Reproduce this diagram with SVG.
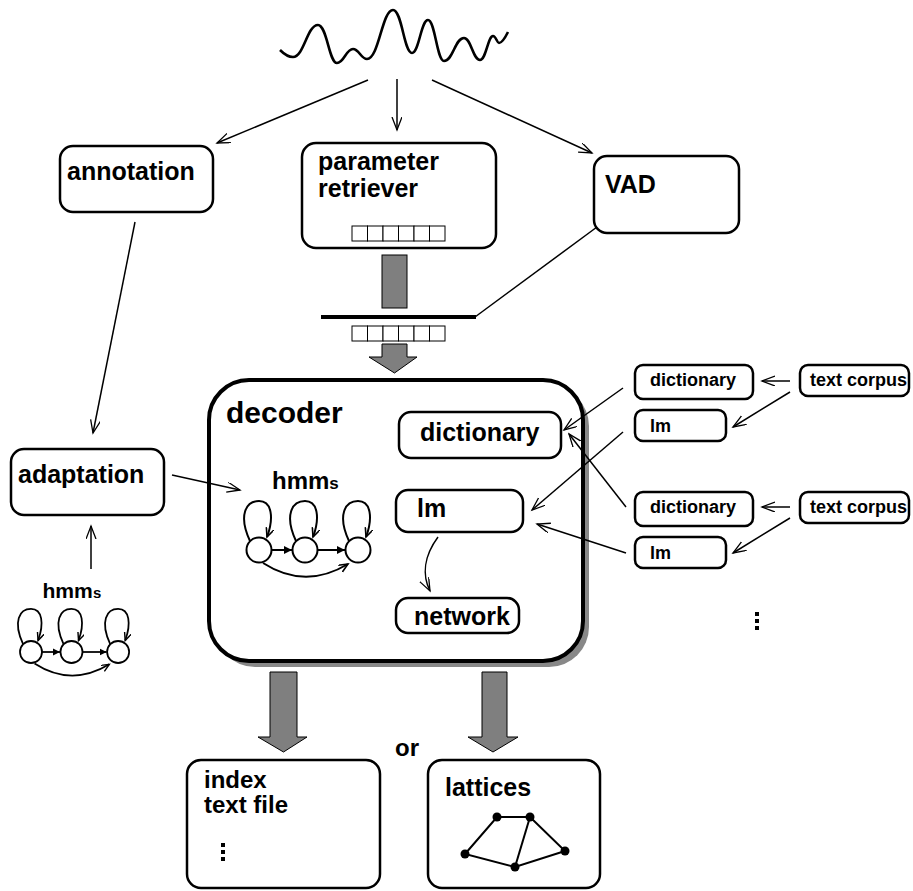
<svg xmlns="http://www.w3.org/2000/svg" width="913" height="891" viewBox="0 0 913 891">
  <style>
    text { font-family: "Liberation Sans", Arial, sans-serif; font-weight: bold; fill: #000; }
    .lbl { font-size: 25px; }
    .sm { font-size: 18px; }
    .box { fill: #fff; stroke: #000; stroke-width: 2.5; }
    .edge { fill: none; stroke: #000; stroke-width: 1.5; }
    .bar { fill: #7f7f7f; stroke: #000; stroke-width: 1; }
    .cell { fill: #fff; stroke: #000; stroke-width: 1; }
    .st { fill: #fff; stroke: #000; stroke-width: 2; }
  </style>
  <defs>
    <marker id="open" markerUnits="userSpaceOnUse" markerWidth="16" markerHeight="12" refX="13" refY="5" orient="auto">
      <path d="M0,0 L13,5 L0,10" fill="none" stroke="#000" stroke-width="1.3"/>
    </marker>
    <marker id="tri" markerUnits="userSpaceOnUse" markerWidth="10" markerHeight="10" refX="8" refY="4" orient="auto">
      <path d="M0,0 L8,4 L0,8 Z" fill="#000"/>
    </marker>
    <marker id="loopHead" markerUnits="userSpaceOnUse" markerWidth="12" markerHeight="12" refX="9" refY="4" orient="auto">
      <path d="M0,0 L9,4 L0,8" fill="none" stroke="#000" stroke-width="1.6"/>
    </marker>
    <!-- three-state HMM, origin at the first state's centre -->
    <g id="hmm">
      <text x="13" y="-61" style="font-size:24px">hmm<tspan style="font-size:17px">s</tspan></text>
      <path class="edge" style="stroke-width:2" d="M-9,-9 C-21,-35 -13,-49 0,-49 C13,-49 15,-32 8,-13" marker-end="url(#loopHead)"/>
      <path class="edge" style="stroke-width:2" d="M37,-9 C25,-35 33,-49 46,-49 C59,-49 61,-32 54,-13" marker-end="url(#loopHead)"/>
      <path class="edge" style="stroke-width:2" d="M90,-9 C78,-35 86,-49 99,-49 C112,-49 114,-32 107,-13" marker-end="url(#loopHead)"/>
      <path class="edge" style="stroke-width:2" d="M12.5,0 L33,0" marker-end="url(#tri)"/>
      <path class="edge" style="stroke-width:2" d="M58.5,0 L86,0" marker-end="url(#tri)"/>
      <path class="edge" style="stroke-width:2" d="M4,13 Q46,40 89,14" marker-end="url(#loopHead)"/>
      <circle class="st" cx="0" cy="0" r="12.5"/>
      <circle class="st" cx="46" cy="0" r="12.5"/>
      <circle class="st" cx="99" cy="0" r="12.5"/>
    </g>
  </defs>

  <!-- speech signal -->
  <path id="signal" fill="none" stroke="#000" stroke-width="2.6" d="M280,50 C284,54 289,57 293,57 C304,57 307,25 318,25 C327,25 329,63 337,63 C344,63 346,49 353,49 C359,49 361,59 367,59 C379,59 382,10 393,10 C402,10 404,53 412,53 C419,53 421,20 428,20 C435,20 437,61 444,61 C453,61 455,38 464,38 C471,38 473,60 480,60 C486,60 488,36 493,36 C496,36 497,43 499,43 C502,43 505,38 508,32"/>

  <!-- decoder frame sits under the connectors that reach into it -->
  <g id="decoder">
    <rect x="215" y="386" width="374" height="281" rx="40" fill="#888"/>
    <rect x="209" y="380" width="374" height="281" rx="40" fill="#fff" stroke="#000" stroke-width="4"/>
    <text x="226" y="423" style="font-size:30px">decoder</text>
  </g>

  <!-- connectors -->
  <g id="connectors">
    <path class="edge" d="M368,80 L217,143" marker-end="url(#open)"/>
    <path class="edge" d="M397,79 L397,130" marker-end="url(#open)"/>
    <path class="edge" d="M432,80 L592,153" marker-end="url(#open)"/>
    <path class="edge" d="M135,222 L93,433" marker-end="url(#open)"/>
    <path class="edge" d="M172,475 L240,490" marker-end="url(#open)"/>
    <path class="edge" d="M91,569 L91,526" marker-end="url(#open)"/>
    <path class="edge" d="M475,317 L597,227"/>
    <line x1="321" y1="317" x2="476" y2="317" stroke="#000" stroke-width="4"/>
    <path class="edge" d="M438,537 C424,556 422,575 430,591" marker-end="url(#open)"/>
    <path class="edge" d="M790,381 L762,381" marker-end="url(#open)"/>
    <path class="edge" d="M790,392 L733,427" marker-end="url(#open)"/>
    <path class="edge" d="M790,507 L762,507" marker-end="url(#open)"/>
    <path class="edge" d="M790,518 L733,553" marker-end="url(#open)"/>
    <path class="edge" d="M623,388 L564,430" marker-end="url(#open)"/>
    <path class="edge" d="M623,432 L532,510" marker-end="url(#open)"/>
    <path class="edge" d="M626,507 L569,434" marker-end="url(#open)"/>
    <path class="edge" d="M626,553 L537,524" marker-end="url(#open)"/>
  </g>

  <!-- block arrows -->
  <rect class="bar" x="382" y="255" width="25" height="53"/>
  <path class="bar" d="M382,344 L407,344 L407,357 L417,357 L394.5,373 L369,357 L382,357 Z"/>
  <path class="bar" d="M270,672 L297,672 L297,737 L307,737 L283.5,752 L258,737 L270,737 Z"/>
  <path class="bar" d="M482,672 L507,672 L507,737 L518,737 L493,752 L468,737 L482,737 Z"/>

  <g id="annotation">
    <rect class="box" x="60" y="146" width="153" height="66" rx="13"/>
    <text class="lbl" x="67" y="180">annotation</text>
  </g>

  <g id="parameter-retriever">
    <rect class="box" x="302" y="143" width="194" height="105" rx="14"/>
    <text class="lbl" x="318" y="170">parameter</text>
    <text class="lbl" x="318" y="197">retriever</text>
    <g>
      <rect class="cell" x="352" y="226" width="15.5" height="15"/>
      <rect class="cell" x="367.5" y="226" width="15.5" height="15"/>
      <rect class="cell" x="383" y="226" width="15.5" height="15"/>
      <rect class="cell" x="398.5" y="226" width="15.5" height="15"/>
      <rect class="cell" x="414" y="226" width="15.5" height="15"/>
      <rect class="cell" x="429.5" y="226" width="15.5" height="15"/>
    </g>
  </g>

  <g id="vad">
    <rect class="box" x="594" y="156" width="145" height="77" rx="13"/>
    <text class="lbl" x="605" y="193">VAD</text>
  </g>

  <g id="feature-buffer">
    <rect class="cell" x="352" y="326" width="15.5" height="15"/>
    <rect class="cell" x="367.5" y="326" width="15.5" height="15"/>
    <rect class="cell" x="383" y="326" width="15.5" height="15"/>
    <rect class="cell" x="398.5" y="326" width="15.5" height="15"/>
    <rect class="cell" x="414" y="326" width="15.5" height="15"/>
    <rect class="cell" x="429.5" y="326" width="15.5" height="15"/>
  </g>

  <g id="adaptation">
    <rect class="box" x="11" y="449" width="153" height="66" rx="13"/>
    <text class="lbl" x="18" y="483">adaptation</text>
  </g>

  <g id="hmms-models">
    <use href="#hmm" transform="translate(31,652) scale(0.88)"/>
  </g>

  <g id="decoder-hmms">
    <use href="#hmm" transform="translate(259,550)"/>
  </g>

  <g id="decoder-dictionary">
    <rect class="box" x="399" y="412" width="162" height="46" rx="12"/>
    <text class="lbl" x="420" y="441">dictionary</text>
  </g>

  <g id="decoder-lm">
    <rect class="box" x="396" y="490" width="127" height="42" rx="12"/>
    <text class="lbl" x="417" y="517">lm</text>
  </g>

  <g id="decoder-network">
    <rect class="box" x="396" y="598" width="123" height="35" rx="12"/>
    <text class="lbl" x="414" y="625">network</text>
  </g>

  <g id="dictionary-1">
    <rect class="box" x="635" y="365" width="118" height="34" rx="8"/>
    <text class="sm" x="650" y="386">dictionary</text>
  </g>
  <g id="corpus-1">
    <rect class="box" x="800" y="365" width="109" height="31" rx="8"/>
    <text class="sm" x="810" y="386">text corpus</text>
  </g>
  <g id="lm-1">
    <rect class="box" x="635" y="410" width="91" height="31" rx="8"/>
    <text class="sm" x="650" y="432">lm</text>
  </g>
  <g id="dictionary-2">
    <rect class="box" x="635" y="492" width="118" height="34" rx="8"/>
    <text class="sm" x="650" y="513">dictionary</text>
  </g>
  <g id="corpus-2">
    <rect class="box" x="800" y="492" width="109" height="31" rx="8"/>
    <text class="sm" x="810" y="513">text corpus</text>
  </g>
  <g id="lm-2">
    <rect class="box" x="635" y="537" width="91" height="31" rx="8"/>
    <text class="sm" x="650" y="559">lm</text>
  </g>

  <!-- vertical ellipsis under the model sets -->
  <g id="more-models" fill="#000">
    <rect x="755" y="612" width="4" height="4"/>
    <rect x="755" y="619" width="4" height="4"/>
    <rect x="755" y="626" width="4" height="4"/>
  </g>

  <text class="lbl" x="395" y="756" style="font-size:24px">or</text>

  <g id="index-file">
    <rect class="box" x="187" y="760" width="193" height="128" rx="14"/>
    <text class="lbl" x="204" y="788" style="font-size:24px">index</text>
    <text class="lbl" x="204" y="813" style="font-size:24px">text file</text>
    <rect x="221" y="843" width="4" height="4"/>
    <rect x="221" y="850" width="4" height="4"/>
    <rect x="221" y="857" width="4" height="4"/>
  </g>

  <g id="lattices">
    <rect class="box" x="428" y="760" width="172" height="128" rx="14"/>
    <text class="lbl" x="445" y="796">lattices</text>
    <g stroke="#000" stroke-width="2" fill="none">
      <path d="M497,817 L530,817 L565,851 L515,867 L465,854 Z"/>
      <path d="M530,817 L515,867"/>
    </g>
    <g fill="#000">
      <circle cx="497" cy="817" r="4.5"/>
      <circle cx="530" cy="817" r="4.5"/>
      <circle cx="465" cy="854" r="4.5"/>
      <circle cx="565" cy="851" r="4.5"/>
      <circle cx="515" cy="867" r="4.5"/>
    </g>
  </g>
</svg>
